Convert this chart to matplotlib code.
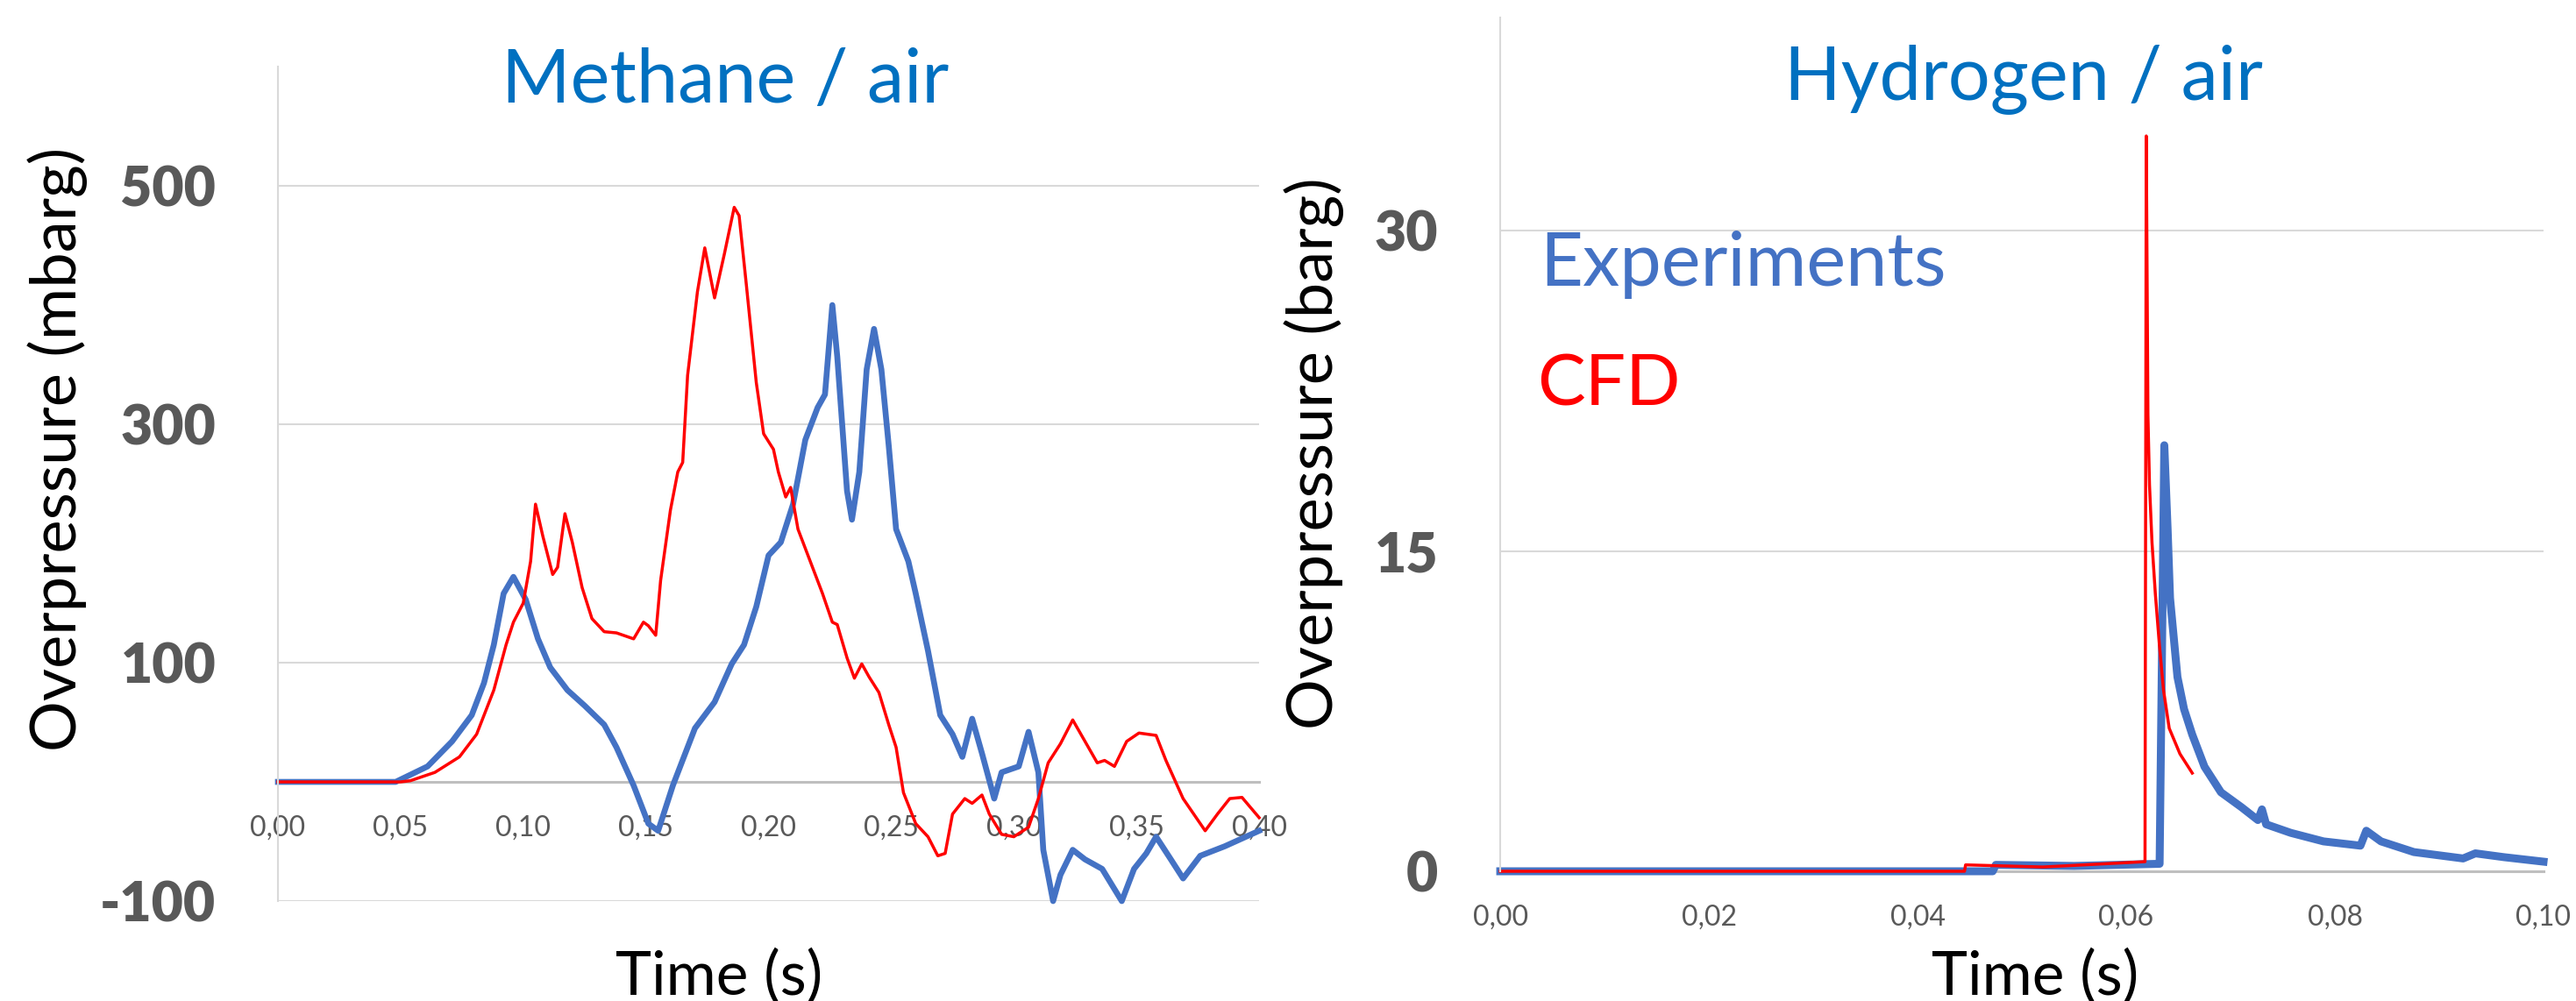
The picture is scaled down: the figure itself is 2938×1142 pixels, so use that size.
import matplotlib
matplotlib.use('Agg')
import matplotlib.pyplot as plt

plt.rcParams['font.family'] = ['Lato', 'DejaVu Sans']

# Methane / air (mbarg)
ch4_exp_t = [0.000, 0.048, 0.061, 0.071, 0.079, 0.084, 0.088, 0.092, 0.096,
             0.101, 0.106, 0.111, 0.118, 0.125, 0.133, 0.138, 0.145, 0.151,
             0.155, 0.161, 0.170, 0.178, 0.185, 0.190, 0.195, 0.200, 0.205,
             0.210, 0.215, 0.220, 0.223, 0.226, 0.228, 0.232, 0.234, 0.237,
             0.240, 0.243, 0.246, 0.249, 0.252, 0.257, 0.260, 0.265, 0.270,
             0.275, 0.279, 0.283, 0.287, 0.292, 0.295, 0.302, 0.306, 0.310,
             0.312, 0.316, 0.319, 0.324, 0.329, 0.336, 0.344, 0.349, 0.354,
             0.358, 0.364, 0.369, 0.376, 0.386, 0.400]
ch4_exp_p = [0, 0, 13, 34, 56, 83, 115, 158, 172,
             153, 120, 96, 77, 64, 48, 29, -3, -35,
             -41, -3, 45, 67, 99, 115, 147, 190, 201,
             233, 287, 314, 325, 400, 357, 244, 220, 260,
             346, 380, 346, 282, 212, 185, 158, 110, 56,
             40, 21, 53, 24, -14, 8, 13, 42, 8,
             -57, -100, -78, -57, -65, -73, -100, -73, -60,
             -46, -65, -81, -62, -54, -41]

ch4_cfd_t = [0.000, 0.050, 0.054, 0.064, 0.074, 0.081, 0.088, 0.093, 0.096,
             0.100, 0.103, 0.105, 0.108, 0.112, 0.114, 0.117, 0.120, 0.124,
             0.128, 0.133, 0.138, 0.145, 0.149, 0.151, 0.154, 0.156, 0.160,
             0.163, 0.165, 0.167, 0.171, 0.174, 0.178, 0.182, 0.186, 0.188,
             0.191, 0.195, 0.198, 0.202, 0.204, 0.207, 0.209, 0.212, 0.217,
             0.222, 0.226, 0.228, 0.232, 0.235, 0.238, 0.241, 0.245, 0.249,
             0.252, 0.255, 0.260, 0.265, 0.269, 0.272, 0.275, 0.280, 0.283,
             0.287, 0.290, 0.295, 0.300, 0.306, 0.310, 0.314, 0.319, 0.324,
             0.329, 0.334, 0.337, 0.341, 0.346, 0.351, 0.358, 0.362, 0.369,
             0.378, 0.383, 0.388, 0.393, 0.400]
ch4_cfd_p = [0, 0, 1, 8, 21, 40, 77, 115, 134,
             150, 185, 233, 206, 174, 180, 225, 201, 163,
             137, 126, 125, 120, 134, 131, 123, 169, 228,
             260, 268, 341, 411, 448, 406, 443, 482, 475,
             416, 335, 292, 279, 260, 239, 247, 212, 185,
             158, 134, 132, 104, 87, 99, 88, 75, 48,
             29, -9, -35, -46, -62, -60, -27, -14, -18,
             -11, -27, -44, -46, -38, -14, 16, 32, 52,
             34, 16, 18, 13, 34, 41, 39, 18, -14,
             -41, -27, -14, -13, -30]

ch4_yticks = [-100, 100, 300, 500]
ch4_ylabels = ['-100', '100', '300', '500']
ch4_xticks = [0.00, 0.05, 0.10, 0.15, 0.20, 0.25, 0.30, 0.35, 0.40]
ch4_xlabels = ['0,00', '0,05', '0,10', '0,15', '0,20', '0,25', '0,30', '0,35', '0,40']

# Hydrogen / air (barg)
h2_exp_t = [0.0000, 0.0472, 0.0475, 0.0550, 0.0632, 0.06365, 0.06397, 0.0642,
            0.06491, 0.06554, 0.06633, 0.0675, 0.06908, 0.07105,
            0.07262, 0.07301, 0.07341, 0.07577, 0.07891, 0.08245, 0.08301,
            0.08442, 0.08757, 0.09229, 0.09347, 0.09622, 0.1000]
h2_exp_p = [0.0, 0.0, 0.3, 0.25, 0.35, 19.96, 16.0, 12.8,
            9.1, 7.6, 6.4, 4.9, 3.7, 3.0,
            2.4, 2.9, 2.2, 1.8, 1.4, 1.2, 1.9,
            1.4, 0.9, 0.6, 0.84, 0.66, 0.45]

h2_cfd_t = [0.0000, 0.0445, 0.0446, 0.0520, 0.0618, 0.06192, 0.06208, 0.06223,
            0.06247, 0.06279, 0.06318, 0.06357, 0.06412, 0.06515, 0.06633]
h2_cfd_p = [0.0, 0.0, 0.3, 0.2, 0.45, 34.45, 21.4, 18.1,
            15.4, 13.0, 10.6, 8.5, 6.7, 5.5, 4.6]

h2_yticks = [0, 15, 30]
h2_ylabels = ['0', '15', '30']
h2_xticks = [0.00, 0.02, 0.04, 0.06, 0.08, 0.10]
h2_xlabels = ['0,00', '0,02', '0,04', '0,06', '0,08', '0,10']

BLUE = '#4472C4'
RED = '#FF0000'
TITLE_BLUE = '#0070C0'
GREY_TXT = '#595959'


def style_axes(ax, yticks, ylabels, xticks, xlabels):
    ax.spines['top'].set_visible(False)
    ax.spines['right'].set_visible(False)
    ax.spines['left'].set_color('#D9D9D9')
    ax.spines['left'].set_linewidth(1.5)
    ax.spines['bottom'].set_color('#BFBFBF')
    ax.spines['bottom'].set_linewidth(2.2)
    ax.spines['bottom'].set_zorder(1.6)
    ax.set_yticks(yticks, ylabels)
    ax.set_xticks(xticks, xlabels)
    ax.grid(axis='y', color='#D9D9D9', linewidth=1.5)
    ax.tick_params(axis='y', length=0, pad=51, labelsize=45,
                   labelcolor=GREY_TXT)
    ax.tick_params(axis='x', length=0, pad=27, labelsize=23,
                   labelcolor=GREY_TXT)
    for lbl in ax.get_yticklabels():
        lbl.set_fontweight('heavy')


def main():
    fig = plt.figure(figsize=(29.38, 11.42), dpi=100)

    ax1 = fig.add_axes([0.1079, 0.0998, 0.3809, 0.8336])
    ax1.plot(ch4_exp_t, ch4_exp_p, color=BLUE, linewidth=4.8, clip_on=False)
    ax1.plot(ch4_cfd_t, ch4_cfd_p, color=RED, linewidth=2.5, clip_on=False)
    ax1.set_xlim(0, 0.4)
    ax1.set_ylim(-100, 600)
    style_axes(ax1, ch4_yticks, ch4_ylabels, ch4_xticks, ch4_xlabels)
    ax1.spines['bottom'].set_position(('data', 0))

    ax2 = fig.add_axes([0.5824, 0.1296, 0.4050, 0.8529])
    ax2.plot(h2_exp_t, h2_exp_p, color=BLUE, linewidth=6.5, clip_on=False)
    ax2.plot(h2_cfd_t, h2_cfd_p, color=RED, linewidth=2.5, clip_on=False)
    ax2.set_xlim(0, 0.1)
    ax2.set_ylim(0, 40)
    style_axes(ax2, h2_yticks, h2_ylabels, h2_xticks, h2_xlabels)

    fig.text(0.2815, 0.8975, 'Methane / air', color=TITLE_BLUE, fontsize=61,
             ha='center', va='baseline')
    fig.text(0.7856, 0.901, 'Hydrogen / air', color=TITLE_BLUE, fontsize=61,
             ha='center', va='baseline')
    fig.text(0.0225, 0.551, 'Overpressure (mbarg)', fontsize=52,
             rotation=90, ha='center', va='center')
    fig.text(0.510, 0.547, 'Overpressure (barg)', fontsize=52,
             rotation=90, ha='center', va='center')
    fig.text(0.279, 0.006, 'Time (s)', fontsize=50, ha='center', va='baseline')
    fig.text(0.790, 0.006, 'Time (s)', fontsize=50, ha='center', va='baseline')
    fig.text(0.5977, 0.7146, 'Experiments', color=BLUE, fontsize=61,
             ha='left', va='baseline')
    fig.text(0.5967, 0.5954, 'CFD', color=RED, fontsize=59,
             ha='left', va='baseline')

    fig.savefig('out.png', dpi=100)


if __name__ == '__main__':
    main()
